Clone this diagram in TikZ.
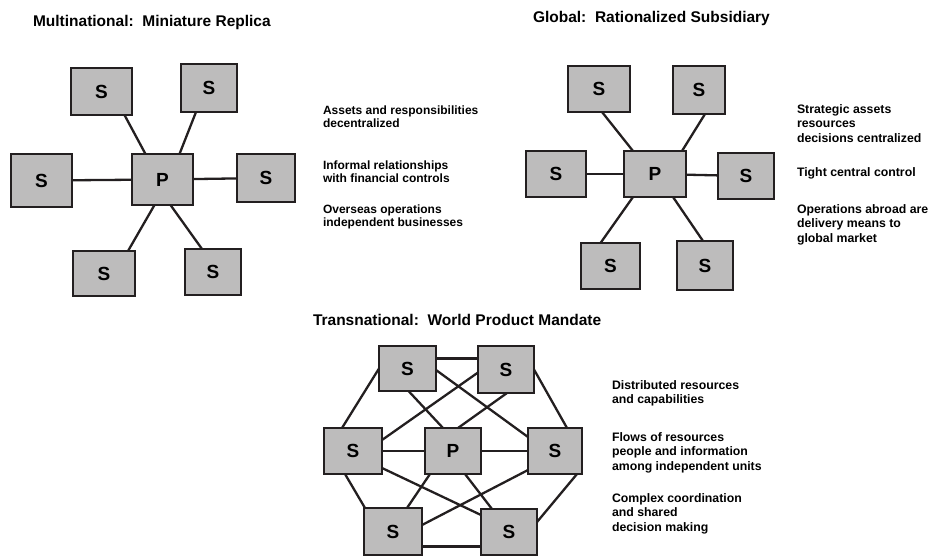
\documentclass[tikz,border=0pt]{standalone}
\usepackage{fontspec}
\setmainfont{Liberation Sans}
\definecolor{dots}{cmyk}{0.00,0.00,0.00,0.30}
\definecolor{ink}{cmyk}{0.00,0.00,0.00,1.00}
\newcommand*{\headfont}{\bfseries\fontsize{15.5}{18}\selectfont}
\newcommand*{\notefont}{\bfseries\fontsize{12}{13.5}\selectfont}
\newcommand*{\widenote}{\bfseries\fontsize{12.3}{14.5}\selectfont}
\tikzstyle{base}=[x=1pt, y=-1pt, inner sep=0pt, outer sep=0pt]
\tikzstyle{unit}=[draw=ink, fill=dots, line width=2.2pt, minimum width=58pt, minimum height=46pt, font=\bfseries\fontsize{19}{19}\selectfont]
\tikzstyle{link}=[draw=ink, line width=2.3pt]
\tikzstyle{note}=[anchor=north west, align=left, font=\notefont]
\tikzstyle{head}=[anchor=base west, font=\headfont]

\begin{document}
\begin{tikzpicture}[base]
    \useasboundingbox (0,0) rectangle (929,558);

        \node [head] (m-head) at (33,26) {Multinational:\ \ Miniature Replica};
        \node [unit, minimum width=61pt, minimum height=47pt] (m-tl) at (101.5,91.5) {S};
        \node [unit, minimum width=56pt, minimum height=48pt] (m-tr) at (209,88) {S};
        \node [unit, minimum width=61pt, minimum height=53pt] (m-l) at (41.5,180.5) {S};
        \node [unit, minimum width=61pt, minimum height=51pt] (m-p) at (162.5,179.5) {P};
        \node [unit, minimum width=58pt, minimum height=48pt] (m-r) at (266,178) {S};
        \node [unit, minimum width=62pt, minimum height=45pt] (m-bl) at (104,273.5) {S};
        \node [unit, minimum width=56pt, minimum height=46pt] (m-br) at (213,272) {S};
        \draw [link] ([xshift=-17pt]m-p.north) -- ([xshift=23pt]m-tl.south);
        \draw [link] ([xshift=17pt]m-p.north) -- ([xshift=-13pt]m-tr.south);
        \draw [link] (m-p) -- (m-l);
        \draw [link] (m-p) -- (m-r);
        \draw [link] ([xshift=-8pt]m-p.south) -- ([xshift=24pt]m-bl.north);
        \draw [link] ([xshift=8pt]m-p.south) -- ([xshift=-11pt]m-br.north);
        \node [note] (m-note1) at (323,105.5) {Assets and responsibilities\\decentralized};
        \node [note] (m-note2) at (323,160.5) {Informal relationships\\with financial controls};
        \node [note] (m-note3) at (323,204.5) {Overseas operations\\independent businesses};

        \node [head] (g-head) at (533,22.5) {Global:\ \ Rationalized Subsidiary};
        \node [unit, minimum width=62pt] (g-tl) at (599,89) {S};
        \node [unit, minimum width=52pt, minimum height=48pt] (g-tr) at (699,90) {S};
        \node [unit, minimum width=60pt] (g-l) at (556,174) {S};
        \node [unit, minimum width=62pt] (g-p) at (655,174) {P};
        \node [unit, minimum width=56pt] (g-r) at (746,176) {S};
        \node [unit, minimum width=59pt] (g-bl) at (610.5,266) {S};
        \node [unit, minimum width=56pt, minimum height=49pt] (g-br) at (705,265.5) {S};
        \draw [link] ([xshift=-22pt]g-p.north) -- ([xshift=3pt]g-tl.south);
        \draw [link] ([xshift=27pt]g-p.north) -- ([xshift=6pt]g-tr.south);
        \draw [link] (g-p) -- (g-l);
        \draw [link] (g-p) -- (g-r);
        \draw [link] ([xshift=-22pt]g-p.south) -- ([xshift=-10pt]g-bl.north);
        \draw [link] ([xshift=18pt]g-p.south) -- ([xshift=-2pt]g-br.north);
        \node [note, font=\widenote] (g-note1) at (797,104.5) {Strategic assets\\resources\\decisions centralized};
        \node [note, font=\widenote] (g-note2) at (797,167.5) {Tight central control};
        \node [note, font=\widenote] (g-note3) at (797,204.5) {Operations abroad are\\delivery means to\\global market};

        \node [head] (t-head) at (313,325) {Transnational:\ \ World Product Mandate};
        \node [unit, minimum width=57pt, minimum height=45pt] (t-tl) at (407.5,368.5) {S};
        \node [unit, minimum width=56pt, minimum height=47pt] (t-tr) at (506,369.5) {S};
        \node [unit] (t-l) at (353,451) {S};
        \node [unit, minimum width=56pt] (t-p) at (453,451) {P};
        \node [unit, minimum width=54pt] (t-r) at (555,451) {S};
        \node [unit, minimum height=47pt] (t-bl) at (393,531.5) {S};
        \node [unit, minimum width=56pt] (t-br) at (509,532) {S};
        \draw [link] ([yshift=10pt]t-tl.east) -- ([yshift=10pt]t-tl.east -| t-tr.west);
        \draw [link] (t-tl.west) -- ([xshift=-11pt]t-l.north);
        \draw [link] (t-tr.east) -- ([xshift=12pt]t-r.north);
        \draw [link] ([xshift=-8pt]t-l.south) -- ([xshift=-28pt]t-bl.north);
        \draw [link] ([xshift=22pt]t-r.south) -- ([yshift=10pt]t-br.east);
        \draw [link] ([yshift=-15pt]t-bl.east) -- ([yshift=-15pt]t-bl.east -| t-br.west);
        \draw [link] (t-l) -- (t-p);
        \draw [link] (t-p) -- (t-r);
        \draw [link] ([xshift=1pt]t-tl.south) -- ([xshift=-10pt]t-p.north);
        \draw [link] ([xshift=1pt]t-tr.south) -- ([xshift=5pt]t-p.north);
        \draw [link] ([yshift=-1.5pt]t-tl.east) -- ([yshift=14pt]t-r.west);
        \draw [link] ([yshift=-3pt]t-tr.west) -- ([yshift=11pt]t-l.east);
        \draw [link] ([yshift=-17pt]t-l.east) -- ([yshift=17pt]t-br.west);
        \draw [link] ([yshift=-19pt]t-r.west) -- ([yshift=6.5pt]t-bl.east);
        \draw [link] ([xshift=-23pt]t-p.south) -- ([xshift=14pt]t-bl.north);
        \draw [link] ([xshift=12pt]t-p.south) -- ([xshift=-17pt]t-br.north);
        \node [note, font=\widenote] (t-note1) at (612,380.5) {Distributed resources\\and capabilities};
        \node [note, font=\widenote] (t-note2) at (612,432.5) {Flows of resources\\people and information\\among independent units};
        \node [note, font=\widenote] (t-note3) at (612,493.5) {Complex coordination\\and shared\\decision making};
    \end{tikzpicture}
\end{document}
